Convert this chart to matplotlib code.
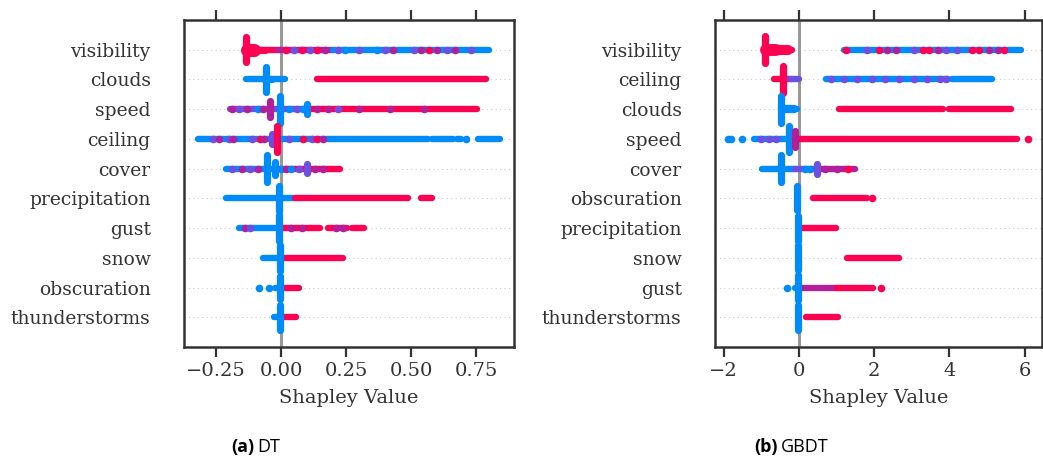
import matplotlib
matplotlib.use("Agg")
import matplotlib.pyplot as plt

RED = "#ff0052"
BLUE = "#008bfb"
PURP = "#b0209a"   # reddish purple
PURB = "#6e4fe0"   # bluish purple
COL = {"r": RED, "b": BLUE, "p": PURP, "q": PURB}

# ---------------- Panel (a) DT ----------------
dt_features = ["visibility", "clouds", "speed", "ceiling", "cover",
               "precipitation", "gust", "snow", "obscuration", "thunderstorms"]
dt_xticks = [-0.25, 0.0, 0.25, 0.5, 0.75]
dt_xlim = (-0.373, 0.896)

# (row, x_start, x_end, colour)
dt_segments = [
    (0, -0.135, -0.01, "r"), (0, -0.01, 0.20, "p"), (0, 0.20, 0.80, "b"),
    (1, -0.135, 0.015, "b"), (1, 0.14, 0.79, "r"),
    (2, -0.196, 0.11, "q"), (2, 0.11, 0.755, "r"),
    (3, -0.32, 0.565, "b"), (3, 0.58, 0.663, "b"), (3, 0.676, 0.691, "b"),
    (3, 0.758, 0.842, "b"),
    (4, -0.21, -0.02, "b"), (4, -0.02, 0.227, "r"),
    (5, -0.21, 0.0, "b"), (5, 0.0, 0.055, "b"), (5, 0.055, 0.49, "r"),
    (5, 0.54, 0.58, "r"),
    (6, -0.16, 0.0, "b"), (6, 0.0, 0.15, "r"), (6, 0.18, 0.255, "r"),
    (6, 0.275, 0.32, "r"),
    (7, -0.07, 0.0, "b"), (7, 0.0, 0.24, "r"),
    (8, -0.022, 0.0, "b"), (8, 0.0, 0.07, "r"),
    (9, -0.025, 0.0, "b"), (9, 0.0, 0.058, "r"),
]
# thick horizontal blobs: (row, x_start, x_end, half-height in rows, colour)
dt_blobs = [
    (0, -0.132, -0.105, 0.22, "r"), (0, -0.132, -0.06, 0.12, "r"),
    (1, -0.065, -0.035, 0.12, "b"),
]
# (row, x, half-height in rows, colour)
dt_spikes = [
    (0, -0.133, 0.42, "r"),
    (1, -0.058, 0.42, "b"),
    (2, -0.042, 0.26, "p"), (2, -0.004, 0.45, "b"), (2, 0.10, 0.16, "b"),
    (3, -0.035, 0.18, "q"), (3, -0.015, 0.45, "r"),
    (4, -0.053, 0.45, "b"), (4, -0.023, 0.22, "b"), (4, 0.10, 0.16, "q"),
    (5, -0.008, 0.43, "b"),
    (6, -0.006, 0.45, "b"),
    (7, -0.002, 0.43, "b"),
    (8, -0.002, 0.38, "b"),
    (9, -0.004, 0.42, "b"),
]
# (row, x, colour)
dt_dots = [
    (0, 0.02, "r"), (0, 0.05, "q"), (0, 0.08, "r"), (0, 0.11, "q"),
    (0, 0.14, "r"), (0, 0.17, "p"), (0, 0.22, "q"), (0, 0.245, "b"),
    (0, 0.30, "q"), (0, 0.37, "b"), (0, 0.40, "q"), (0, 0.43, "p"),
    (0, 0.51, "q"), (0, 0.54, "p"), (0, 0.57, "r"), (0, 0.60, "p"),
    (0, 0.64, "q"), (0, 0.67, "p"), (0, 0.73, "q"),
    (2, -0.19, "p"), (2, -0.16, "q"), (2, -0.13, "p"), (2, -0.09, "b"),
    (2, -0.07, "p"), (2, 0.03, "b"), (2, 0.06, "q"), (2, 0.085, "b"),
    (2, 0.14, "p"), (2, 0.18, "p"), (2, 0.22, "q"), (2, 0.30, "p"),
    (2, 0.42, "p"), (2, 0.55, "p"),
    (3, -0.26, "q"), (3, -0.24, "p"), (3, -0.20, "q"), (3, -0.185, "p"),
    (3, -0.11, "q"), (3, -0.08, "r"), (3, -0.065, "p"), (3, 0.03, "q"),
    (3, 0.085, "r"), (3, 0.12, "q"), (3, 0.14, "r"), (3, 0.16, "p"),
    (3, 0.71, "b"),
    (4, -0.19, "q"), (4, -0.15, "p"), (4, -0.12, "q"), (4, -0.09, "p"),
    (4, 0.0, "b"), (4, 0.02, "p"), (4, 0.04, "b"), (4, 0.07, "q"),
    (4, 0.13, "p"), (4, 0.16, "p"),
    (6, -0.14, "p"), (6, -0.12, "q"), (6, 0.04, "p"), (6, 0.08, "p"),
    (6, 0.21, "p"), (6, 0.24, "p"),
    (8, -0.085, "b"), (8, -0.046, "b"),
]

# ---------------- Panel (b) GBDT ----------------
gb_features = ["visibility", "ceiling", "clouds", "speed", "cover",
               "obscuration", "precipitation", "snow", "gust", "thunderstorms"]
gb_xticks = [-2, 0, 2, 4, 6]
gb_xlim = (-2.23, 6.46)

gb_segments = [
    (0, -0.91, -0.19, "r"), (0, 1.21, 5.90, "b"),
    (1, -0.65, -0.2, "r"), (1, -0.2, 0.0, "q"), (1, 0.73, 3.95, "b"),
    (1, 4.08, 5.12, "b"),
    (2, -0.48, -0.06, "b"), (2, 1.06, 3.82, "r"), (2, 3.98, 5.65, "r"),
    (3, -1.20, -0.27, "b"), (3, -0.27, 0.0, "q"), (3, 0.0, 5.80, "r"),
    (4, -0.97, -0.10, "b"), (4, -0.10, 0.55, "q"), (4, 0.55, 1.48, "p"),
    (5, 0.37, 1.80, "r"),
    (6, 0.10, 0.98, "r"),
    (7, 1.27, 2.65, "r"),
    (8, -0.1, 0.0, "b"), (8, 0.05, 1.0, "p"), (8, 1.0, 1.98, "r"),
    (9, 0.20, 1.05, "r"),
]
gb_blobs = [
    (0, -0.88, -0.30, 0.17, "r"), (0, -0.88, -0.60, 0.20, "r"),
    (2, -0.45, -0.12, 0.14, "b"),
    (1, -0.25, -0.05, 0.10, "q"),
]
gb_spikes = [
    (0, -0.91, 0.45, "r"),
    (1, -0.43, 0.45, "r"),
    (2, -0.48, 0.45, "b"),
    (3, -0.27, 0.45, "b"), (3, -0.10, 0.26, "p"),
    (4, -0.48, 0.45, "b"), (4, 0.48, 0.17, "q"),
    (5, -0.06, 0.40, "b"),
    (6, -0.02, 0.42, "b"),
    (7, -0.03, 0.42, "b"),
    (8, -0.03, 0.42, "b"),
    (9, -0.03, 0.42, "b"),
]
gb_dots = [
    (0, 1.26, "r"), (0, 2.14, "r"), (0, 2.35, "p"), (0, 2.59, "p"),
    (0, 3.07, "q"), (0, 3.29, "r"), (0, 3.45, "r"), (0, 3.92, "q"),
    (0, 4.20, "q"), (0, 4.60, "r"), (0, 4.80, "r"), (0, 5.05, "p"),
    (0, 5.30, "p"), (0, 5.46, "r"), (0, 1.80, "q"), (0, 3.70, "p"),
    (1, 0.85, "q"), (1, 1.20, "q"), (1, 1.55, "q"), (1, 1.95, "q"),
    (1, 2.30, "q"), (1, 2.65, "q"), (1, 3.05, "q"), (1, 3.40, "q"),
    (1, 3.75, "q"), (1, 3.92, "q"),
    (3, -1.88, "b"), (3, -1.80, "b"), (3, -1.50, "b"), (3, -1.0, "q"),
    (3, -0.80, "q"), (3, -0.60, "q"), (3, 6.10, "r"),
    (4, 0.15, "b"), (4, 0.30, "b"), (4, 0.70, "p"), (4, 1.00, "p"),
    (4, 1.30, "r"),
    (5, 1.93, "r"),
    (8, -0.32, "b"), (8, 2.17, "r"),
]

LW = 4.6
DOT = 30
ROW_PT = 0.7139 * 4.58 * 72 / 11.0   # points per row unit


def panel(ax, features, segments, blobs, spikes, dots, xticks, xlim):
    n = len(features)
    ypos = lambda r: n - 1 - r
    for i in range(n):
        ax.axhline(ypos(i), color="#cccccc", lw=0.8, ls=(0, (1, 3)), zorder=0)
    ax.axvline(0, color="#999999", lw=2.2, zorder=1)
    for r, x0, x1, c in segments:
        ax.plot([x0, x1], [ypos(r)] * 2, color=COL[c], lw=LW,
                solid_capstyle="round", zorder=2)
    for r, x0, x1, h, c in blobs:
        ax.plot([x0, x1], [ypos(r)] * 2, color=COL[c], lw=2 * h * ROW_PT,
                solid_capstyle="round", zorder=2)
    for r, x, c in dots:
        ax.scatter([x], [ypos(r)], s=DOT, color=COL[c], lw=0, zorder=3)
    for r, x, h, c in spikes:
        ax.plot([x, x], [ypos(r) - h, ypos(r) + h], color=COL[c], lw=LW + 0.6,
                solid_capstyle="round", zorder=4)
    ax.set_xlim(*xlim)
    ax.set_ylim(-1, n)
    ax.set_yticks([ypos(i) for i in range(n)])
    ax.set_yticklabels(features)
    ax.tick_params(axis="y", length=0, pad=24, labelsize=13.5, labelcolor="#333333")
    ax.set_xticks(xticks)
    ax.tick_params(axis="x", which="both", direction="out", length=7, width=1.6,
                   color="#333333", top=True, bottom=True, labeltop=False,
                   labelsize=14, labelcolor="#333333")
    for s in ax.spines.values():
        s.set_linewidth(1.8)
        s.set_color("#333333")
    ax.set_xlabel("Shapley Value", fontsize=14, color="#333333", labelpad=7)


plt.rcParams["font.family"] = ["DejaVu Serif"]
fig = plt.figure(figsize=(10.43, 4.58), dpi=100)
ax1 = fig.add_axes([0.1764, 0.2424, 0.3164, 0.7139])
ax2 = fig.add_axes([0.6855, 0.2424, 0.3135, 0.7139])
panel(ax1, dt_features, dt_segments, dt_blobs, dt_spikes, dt_dots, dt_xticks, dt_xlim)
panel(ax2, gb_features, gb_segments, gb_blobs, gb_spikes, gb_dots, gb_xticks, gb_xlim)

cap_font = ["Liberation Sans Narrow", "Open Sans"]
fig.text(0.2435, 0.024, "(a)", fontsize=13, fontweight="bold", family=cap_font,
         va="center", ha="right")
fig.text(0.2464, 0.024, "DT", fontsize=13, family=cap_font, va="center", ha="left")
fig.text(0.7459, 0.024, "(b)", fontsize=13, fontweight="bold", family=cap_font,
         va="center", ha="right")
fig.text(0.7488, 0.024, "GBDT", fontsize=13, family=cap_font, va="center", ha="left")

fig.savefig("out.png", dpi=100)
